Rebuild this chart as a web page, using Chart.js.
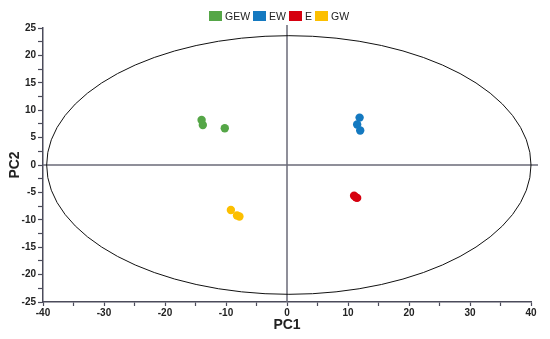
<!DOCTYPE html>
<html>
<head>
<meta charset="utf-8">
<script src="https://cdn.jsdelivr.net/npm/chart.js@4/dist/chart.umd.min.js"></script>
<style>
  html, body { margin: 0; padding: 0; background: #fff; }
  #wrap { position: relative; width: 550px; height: 339px; }
  #legend {
    position: absolute; top: 10px; left: 209px;
    display: flex; align-items: center;
    font-family: 'Liberation Sans', Arial, sans-serif; font-size: 10.5px; color: #222;
  }
  #legend .item { display: flex; align-items: center; margin-right: 3px; }
  #legend .box { width: 13px; height: 10px; margin-right: 3px; }
</style>
</head>
<body>
<div id="wrap">
  <div id="legend"></div>
  <canvas id="pca"></canvas>
</div>
<script>
// Group names and colours
const groups = ['GEW', 'EW', 'E', 'GW'];
const groupColors = ['#55a647', '#1479c0', '#d6000f', '#fcbf00'];

// Scores (PC1, PC2)
const gewPC1 = [-14.0, -13.8, -10.2];
const gewPC2 = [8.2, 7.3, 6.7];
const ewPC1 = [11.9, 11.5, 12.0];
const ewPC2 = [8.65, 7.4, 6.3];
const ePC1 = [11.0, 11.3, 11.5];
const ePC2 = [-5.6, -5.9, -6.0];
const gwPC1 = [-9.2, -8.2, -7.8];
const gwPC2 = [-8.2, -9.2, -9.4];

// Confidence ellipse (centre + semi-axes in data units)
const ellipseCenter = [0.3, 0];
const ellipseRadii = [39.7, 23.6];

// Axis ranges
const xRange = [-40, 40];
const yRange = [-25, 25];

const axisColor = '#4b4b5a';

function toPoints(xs, ys) {
  return xs.map((x, i) => ({ x: x, y: ys[i] }));
}

const series = [
  toPoints(gewPC1, gewPC2),
  toPoints(ewPC1, ewPC2),
  toPoints(ePC1, ePC2),
  toPoints(gwPC1, gwPC2)
];

// Legend as plain html above the canvas
const legendEl = document.getElementById('legend');
groups.forEach((g, i) => {
  const item = document.createElement('span');
  item.className = 'item';
  item.innerHTML = `<span class="box" style="background:${groupColors[i]}"></span><span>${g}</span>`;
  legendEl.appendChild(item);
});

// ellipse + zero lines drawn through the chart scales
const overlayPlugin = {
  id: 'overlay',
  beforeDatasetsDraw(chart) {
    const { ctx, chartArea, scales } = chart;
    const xs = scales.x, ys = scales.y;
    const x0 = xs.getPixelForValue(0);
    const y0 = ys.getPixelForValue(0);
    ctx.save();
    ctx.strokeStyle = '#6b6b78';
    ctx.lineWidth = 1.5;
    ctx.beginPath();
    ctx.moveTo(chartArea.left, y0);
    ctx.lineTo(chartArea.right + 7, y0);
    ctx.moveTo(x0, chartArea.top - 3);
    ctx.lineTo(x0, chartArea.bottom);
    ctx.stroke();

    const cx = xs.getPixelForValue(ellipseCenter[0]);
    const cy = ys.getPixelForValue(ellipseCenter[1]);
    const rx = Math.abs(xs.getPixelForValue(ellipseCenter[0] + ellipseRadii[0]) - cx);
    const ry = Math.abs(ys.getPixelForValue(ellipseCenter[1] + ellipseRadii[1]) - cy);
    ctx.strokeStyle = '#111';
    ctx.lineWidth = 1;
    ctx.beginPath();
    ctx.ellipse(cx, cy, rx, ry, 0, 0, Math.PI * 2);
    ctx.stroke();
    ctx.restore();
  }
};

new Chart(document.getElementById('pca'), {
  type: 'scatter',
  data: {
    datasets: groups.map((g, i) => ({
      label: g,
      data: series[i],
      backgroundColor: groupColors[i],
      borderColor: groupColors[i],
      borderWidth: 0,
      pointRadius: 4.2,
      pointStyle: 'circle'
    }))
  },
  options: {
    responsive: true,
    maintainAspectRatio: false,
    animation: false,
    layout: { padding: { top: 28, right: 19, left: 0, bottom: 0 } },
    plugins: {
      tooltip: { enabled: false },
      legend: { display: false }
    },
    scales: {
      x: {
        type: 'linear',
        min: xRange[0],
        max: xRange[1],
        afterFit: (scale) => { scale.height = 37; },
        border: { display: true, color: axisColor, width: 1.5 },
        grid: { drawOnChartArea: false, drawTicks: true, tickLength: 4, color: axisColor, tickWidth: 1.2 },
        ticks: {
          stepSize: 5,
          autoSkip: false,
          maxRotation: 0,
          padding: 1,
          color: '#222',
          font: { family: 'Liberation Sans, Arial, sans-serif', size: 10, weight: 'bold' },
          callback: (v) => (v % 10 === 0 ? String(v) : '')
        },
        title: {
          display: true,
          text: 'PC1',
          color: '#222',
          padding: { top: 0, bottom: 5 },
          font: { family: 'Liberation Sans, Arial, sans-serif', size: 14, weight: 'bold' }
        }
      },
      y: {
        type: 'linear',
        min: yRange[0],
        max: yRange[1],
        afterFit: (scale) => { scale.width = 43; },
        border: { display: true, color: axisColor, width: 1.5 },
        grid: { drawOnChartArea: false, drawTicks: true, tickLength: 5, color: axisColor, tickWidth: 1.2 },
        ticks: {
          stepSize: 2.5,
          autoSkip: false,
          padding: 2,
          color: '#222',
          font: { family: 'Liberation Sans, Arial, sans-serif', size: 10, weight: 'bold' },
          callback: (v) => (v % 5 === 0 ? String(v) : '')
        },
        title: {
          display: true,
          text: 'PC2',
          color: '#222',
          padding: { top: 7, bottom: 0 },
          font: { family: 'Liberation Sans, Arial, sans-serif', size: 14, weight: 'bold' }
        }
      }
    }
  },
  plugins: [overlayPlugin]
});
</script>
</body>
</html>
